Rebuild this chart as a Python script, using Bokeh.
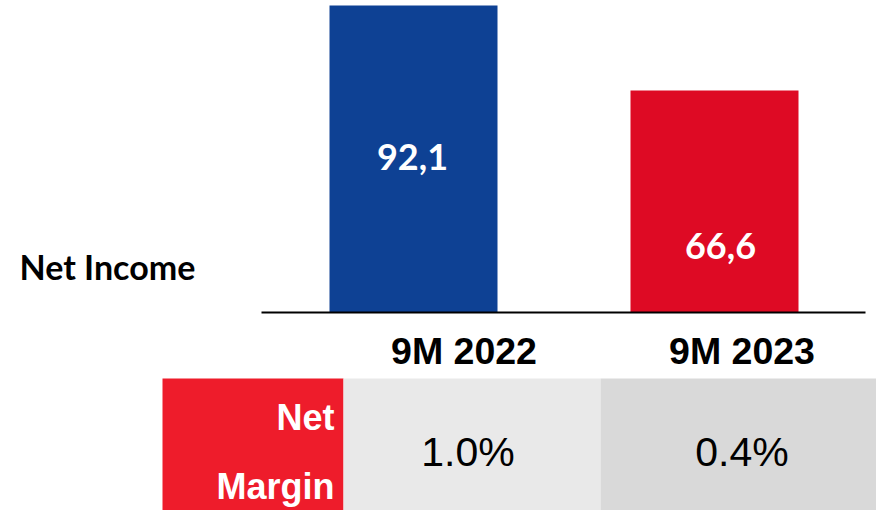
from bokeh.plotting import figure
from bokeh.models import Range1d
from bokeh.core.properties import value
from bokeh.embed import file_html
from bokeh.resources import INLINE

# ---- data ----
categories = ["9M 2022", "9M 2023"]
net_income = [92.1, 66.6]
net_income_labels = ["92,1", "66,6"]
net_margin = [1.0, 0.4]
net_margin_labels = ["%.1f%%" % v for v in net_margin]
bar_colors = ["#0E4194", "#DE0A24"]
cell_colors = ["#E9E9E9", "#D9D9D9"]

W, H = 876, 510
p = figure(width=W, height=H, output_backend="svg", toolbar_location=None,
           x_axis_type=None, y_axis_type=None,
           x_range=Range1d(0, W), y_range=Range1d(-59.4, 93.6),
           min_border=0)
p.outline_line_color = None
p.grid.visible = False
p.background_fill_color = "white"
p.border_fill_color = "white"
p.extra_y_ranges = {"px": Range1d(start=H, end=0)}

K = 0.42  # baseline correction factor (fraction of font size)

# layout
bar_x0, bar_step, bar_w = 413, 301, 168
bar_x = [bar_x0 + i * bar_step for i in range(len(categories))]
col_edges = [343, 600, 880]
col_cx = [467.5, 741.5]

# bars
p.vbar(x=bar_x, width=bar_w, bottom=0, top=net_income, color=bar_colors, line_color=None)
# baseline
p.segment(x0=[261], y0=[0], x1=[865], y1=[0], line_color="black", line_width=2.2)

# bar labels
fs = 36
label_x = [bar_x[0] - 1, bar_x[1] + 6]
label_y = [172 - K * fs, 261 - K * fs]
p.text(x=label_x, y=label_y, text=net_income_labels, y_range_name="px",
       text_font=value("Lato"), text_font_style="bold", text_font_size=f"{fs}px",
       text_color="white", text_align="center", text_baseline="alphabetic")

# Net Income label
fs = 34
p.text(x=[19], y=[280 - K * fs], text=["Net Income"], y_range_name="px",
       text_font=value("Lato"), text_font_style="bold", text_font_size=f"{fs}px",
       text_color="black", text_align="left", text_baseline="alphabetic")

# category labels
fs = 37.5
p.text(x=[463.5, 741.5], y=[366 - K * fs] * 2, text=categories, y_range_name="px",
       text_font=value("Liberation Sans"), text_font_style="bold", text_font_size=f"{fs}px",
       text_color="black", text_align="center", text_baseline="alphabetic")

# table
p.quad(left=[162], right=[col_edges[0]], top=[378], bottom=[H + 10],
       color="#EE1C2B", line_color=None, y_range_name="px")
p.quad(left=col_edges[:-1], right=col_edges[1:], top=378, bottom=H + 10,
       color=cell_colors, line_color=None, y_range_name="px")
fs = 36
p.text(x=[334, 334], y=[432 - K * fs, 501 - K * fs], text=["Net", "Margin"], y_range_name="px",
       text_font=value("Liberation Sans"), text_font_style="bold", text_font_size=f"{fs}px",
       text_color="white", text_align="right", text_baseline="alphabetic")
fs = 41
p.text(x=col_cx, y=[469 - K * fs] * 2, text=net_margin_labels, y_range_name="px",
       text_font=value("Liberation Sans"), text_font_size=f"{fs}px",
       text_color="black", text_align="center", text_baseline="alphabetic")

open("out.html", "w").write(file_html(p, INLINE))
